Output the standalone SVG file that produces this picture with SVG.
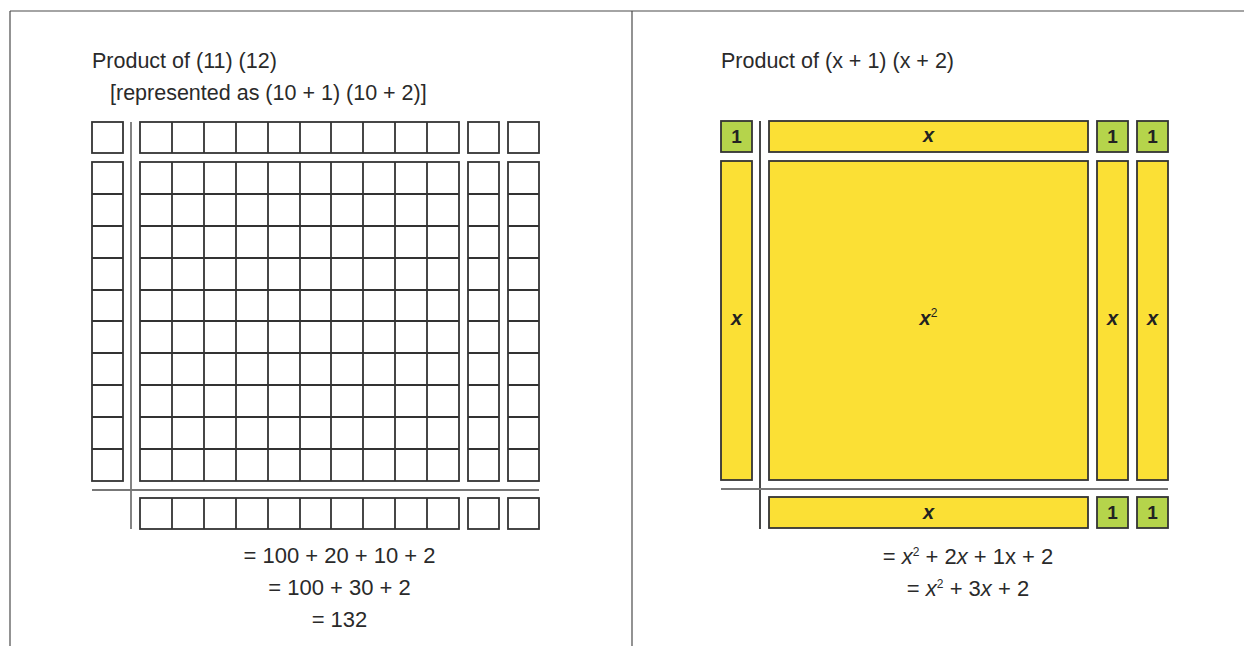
<svg xmlns="http://www.w3.org/2000/svg" width="1244" height="646" viewBox="0 0 1244 646">
<style>
text{font-family:"Liberation Sans",Arial,sans-serif;fill:#2a2a2a}
.t{font-size:21.5px}
.frame{stroke:#4a4a4a;stroke-width:1.2;fill:none}
.cell{fill:#fff;stroke:#333;stroke-width:1.8}
.gl{stroke:#333;stroke-width:1.8;fill:none}
.sep{stroke:#777;stroke-width:1.8}
.sepd{stroke:#333;stroke-width:1.8}
.yel{fill:#FBE035;stroke:#333;stroke-width:1.8}
.grn{fill:#B5D44B;stroke:#333;stroke-width:1.8}
.lbl{font-size:19px;font-weight:bold;text-anchor:middle;fill:#222}
.xl{font-size:20px;font-weight:bold;font-style:italic;text-anchor:middle;fill:#222}
.eq{font-size:22px;text-anchor:middle}
</style>
<rect width="1244" height="646" fill="#fff"/>
<g id="frame">
<line class="frame" x1="10" y1="11" x2="1244" y2="11"/>
<line class="frame" x1="10" y1="11" x2="10" y2="646"/>
<line class="frame" x1="632" y1="11" x2="632" y2="646"/>
</g>

<g id="left-panel">
<text class="t" x="92" y="68">Product of (11) (12)</text>
<text class="t" x="110" y="100">[represented as (10 + 1) (10 + 2)]</text>

<g id="left-separators">
<line class="sep" x1="131" y1="122" x2="131" y2="529"/>
<line class="sep" x1="92" y1="490" x2="539" y2="490"/>
</g>

<g id="left-corner"><rect class="cell" x="92" y="122" width="31" height="31"/></g>

<g id="left-top-row">
<rect class="cell" x="140" y="122" width="319" height="31"/>
<path class="gl" d="M172 122V153M204 122V153M236 122V153M268 122V153M300 122V153M331 122V153M363 122V153M395 122V153M427 122V153"/>
<rect class="cell" x="468" y="122" width="31" height="31"/>
<rect class="cell" x="508" y="122" width="31" height="31"/>
</g>

<g id="left-column">
<rect class="cell" x="92" y="162" width="31" height="319"/>
<path class="gl" d="M92 194H123M92 226H123M92 258H123M92 290H123M92 321H123M92 353H123M92 385H123M92 417H123M92 449H123"/>
</g>

<g id="left-main">
<rect class="cell" x="140" y="162" width="319" height="319"/>
<path class="gl" d="M172 162V481M204 162V481M236 162V481M268 162V481M300 162V481M331 162V481M363 162V481M395 162V481M427 162V481M140 194H459M140 226H459M140 258H459M140 290H459M140 321H459M140 353H459M140 385H459M140 417H459M140 449H459"/>
</g>

<g id="left-extra-cols">
<rect class="cell" x="468" y="162" width="31" height="319"/>
<rect class="cell" x="508" y="162" width="31" height="319"/>
<path class="gl" d="M468 194H499M468 226H499M468 258H499M468 290H499M468 321H499M468 353H499M468 385H499M468 417H499M468 449H499M508 194H539M508 226H539M508 258H539M508 290H539M508 321H539M508 353H539M508 385H539M508 417H539M508 449H539"/>
</g>

<g id="left-bottom-row">
<rect class="cell" x="140" y="498" width="319" height="31"/>
<path class="gl" d="M172 498V529M204 498V529M236 498V529M268 498V529M300 498V529M331 498V529M363 498V529M395 498V529M427 498V529"/>
<rect class="cell" x="468" y="498" width="31" height="31"/>
<rect class="cell" x="508" y="498" width="31" height="31"/>
</g>

<g id="left-equations">
<text class="eq" x="339.5" y="563">= 100 + 20 + 10 + 2</text>
<text class="eq" x="339.5" y="595">= 100 + 30 + 2</text>
<text class="eq" x="339.5" y="627">= 132</text>
</g>
</g>

<g id="right-panel">
<text class="t" x="721" y="68">Product of (x + 1) (x + 2)</text>

<g id="right-separators">
<line class="sepd" x1="760" y1="121" x2="760" y2="529"/>
<line class="sep" x1="721" y1="489" x2="1168" y2="489"/>
</g>

<g id="tile-1-topleft"><rect class="grn" x="721" y="121" width="31" height="31"/><text class="lbl" x="736.5" y="143">1</text></g>
<g id="tile-x-top"><rect class="yel" x="769" y="121" width="319" height="31"/><text class="xl" x="928.5" y="142">x</text></g>
<g id="tile-1-top-a"><rect class="grn" x="1097" y="121" width="31" height="31"/><text class="lbl" x="1112.5" y="143">1</text></g>
<g id="tile-1-top-b"><rect class="grn" x="1137" y="121" width="31" height="31"/><text class="lbl" x="1152.5" y="143">1</text></g>

<g id="tile-x-left"><rect class="yel" x="721" y="161" width="31" height="319"/><text class="xl" x="736.5" y="325">x</text></g>
<g id="tile-x2"><rect class="yel" x="769" y="161" width="319" height="319"/><text class="xl" x="928.5" y="325">x<tspan font-size="12" font-weight="normal" font-style="normal" dy="-8">2</tspan></text></g>
<g id="tile-x-right-a"><rect class="yel" x="1097" y="161" width="31" height="319"/><text class="xl" x="1112.5" y="325">x</text></g>
<g id="tile-x-right-b"><rect class="yel" x="1137" y="161" width="31" height="319"/><text class="xl" x="1152.5" y="325">x</text></g>

<g id="tile-x-bottom"><rect class="yel" x="769" y="497" width="319" height="31"/><text class="xl" x="928.5" y="519">x</text></g>
<g id="tile-1-bottom-a"><rect class="grn" x="1097" y="497" width="31" height="31"/><text class="lbl" x="1112.5" y="519">1</text></g>
<g id="tile-1-bottom-b"><rect class="grn" x="1137" y="497" width="31" height="31"/><text class="lbl" x="1152.5" y="519">1</text></g>

<g id="right-equations">
<text class="eq" x="968" y="564">= <tspan font-style="italic">x</tspan><tspan font-size="12" dy="-8">2</tspan><tspan dy="8"> + 2</tspan><tspan font-style="italic">x</tspan> + 1x + 2</text>
<text class="eq" x="968" y="596">= <tspan font-style="italic">x</tspan><tspan font-size="12" dy="-8">2</tspan><tspan dy="8"> + 3</tspan><tspan font-style="italic">x</tspan> + 2</text>
</g>
</g>
</svg>
